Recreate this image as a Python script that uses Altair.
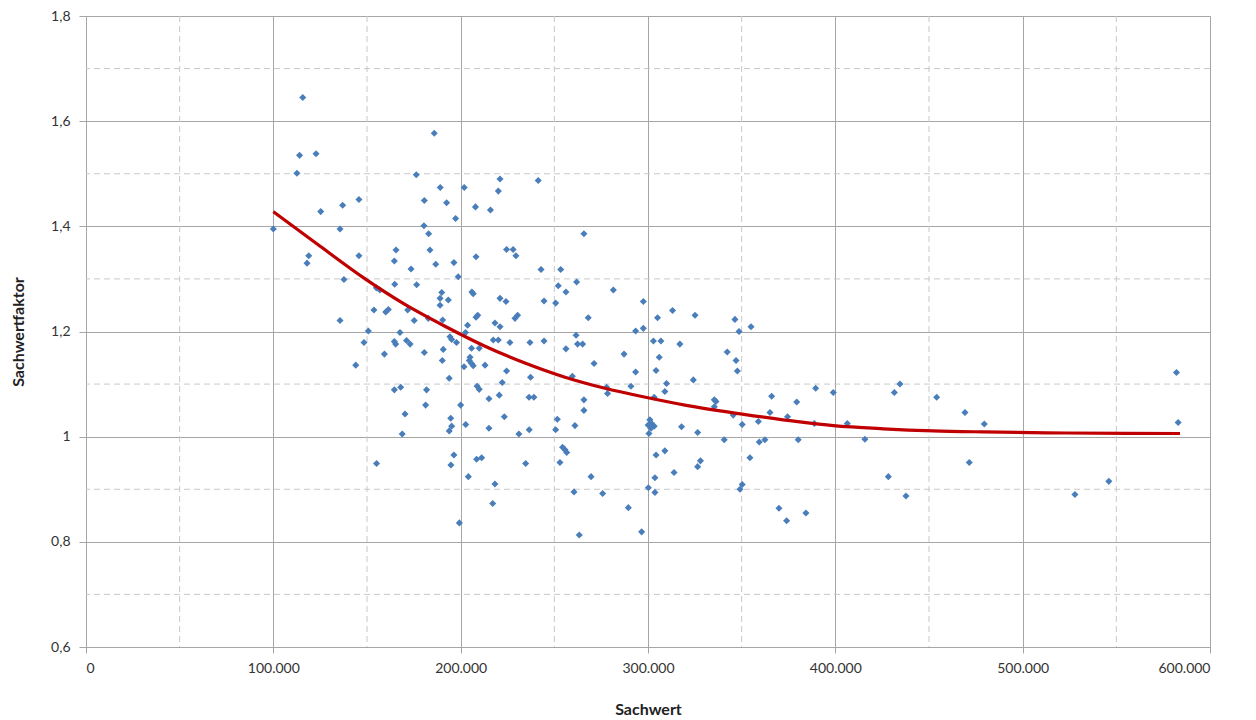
import altair as alt
import pandas as pd

# Scatter data: Sachwert (EUR) and Sachwertfaktor
sachwert = [
    100000, 115700, 114000, 122800, 112600, 125300, 137000, 145700, 135600, 118900,
    118000, 145700, 137700, 135600, 148400, 144000, 150700, 185900, 176300, 189100,
    180600, 192500, 180400, 182900, 165500, 183600, 164600, 186700, 173500, 164800,
    176500, 189900, 189000, 189000, 156900, 155000, 153700, 160000, 161400, 171700,
    175200, 182700, 190400, 167600, 164600, 165300, 171100, 173000, 159300, 180600,
    190700, 190200, 164600, 168000, 181800, 181300, 170300, 168800, 155100, 221000,
    201900, 220100, 207900, 215900, 197300, 224500, 228000, 229500, 208200, 196400,
    198700, 206700, 206000, 193400, 221000, 224200, 209100, 208200, 229000, 230400,
    203700, 218300, 221000, 194300, 195200, 197800, 202600, 205800, 209900, 217400,
    220100, 226300, 205000, 204600, 205800, 206700, 201800, 213000, 224500, 193900,
    208800, 209900, 222200, 215100, 220600, 200000, 223300, 194700, 195200, 193900,
    202700, 215100, 231100, 196400, 194800, 208500, 211200, 204100, 218300, 217100,
    199300, 234700, 241400, 265800, 242900, 253400, 261900, 252100, 256200, 244500,
    250700, 268100, 237000, 244500, 256200, 261600, 262400, 265100, 271200, 237300,
    259600, 236500, 239100, 265800, 265800, 251600, 261000, 236600, 250700, 254400,
    255700, 256600, 253000, 269600, 260500, 275800, 263300, 281500, 297500, 305100,
    313100, 293400, 297500, 302900, 306900, 317000, 287200, 306000, 293400, 304300,
    290900, 309900, 309000, 277900, 278400, 303300, 301000, 301900, 300100, 303300,
    301600, 300500, 317900, 309000, 304300, 313900, 303700, 300200, 303700, 289500,
    296600, 325100, 346400, 348600, 355000, 342300, 347000, 347700, 324200, 366000,
    379400, 335400, 336300, 335400, 365100, 374500, 345500, 358900, 350300, 326500,
    340700, 359400, 362400, 380200, 354400, 328000, 326500, 350300, 349100, 369900,
    374000, 384300, 389500, 398900, 388800, 406400, 415800, 431500, 434500, 428300,
    437700, 454100, 469200, 479500, 471500, 527900, 546000, 582100, 583000,
]
sachwertfaktor = [
    1.395, 1.645, 1.535, 1.538, 1.501, 1.428, 1.440, 1.451, 1.395, 1.344,
    1.330, 1.344, 1.299, 1.221, 1.179, 1.136, 1.201, 1.577, 1.498, 1.474,
    1.449, 1.445, 1.401, 1.386, 1.355, 1.355, 1.334, 1.328, 1.319, 1.290,
    1.289, 1.274, 1.263, 1.250, 1.279, 1.283, 1.241, 1.237, 1.242, 1.241,
    1.221, 1.225, 1.222, 1.198, 1.181, 1.176, 1.183, 1.176, 1.157, 1.160,
    1.166, 1.145, 1.089, 1.094, 1.089, 1.060, 1.043, 1.005, 0.949, 1.490,
    1.474, 1.467, 1.437, 1.431, 1.415, 1.356, 1.356, 1.344, 1.342, 1.331,
    1.304, 1.272, 1.275, 1.260, 1.263, 1.257, 1.231, 1.227, 1.225, 1.231,
    1.212, 1.216, 1.209, 1.190, 1.185, 1.179, 1.198, 1.168, 1.168, 1.184,
    1.184, 1.179, 1.151, 1.145, 1.139, 1.135, 1.133, 1.136, 1.125, 1.111,
    1.096, 1.090, 1.103, 1.072, 1.079, 1.060, 1.038, 1.035, 1.020, 1.011,
    1.023, 1.016, 1.005, 0.965, 0.946, 0.957, 0.960, 0.924, 0.910, 0.873,
    0.836, 0.949, 1.487, 1.386, 1.318, 1.318, 1.294, 1.287, 1.275, 1.258,
    1.254, 1.226, 1.179, 1.182, 1.167, 1.193, 1.176, 1.176, 1.139, 1.113,
    1.115, 1.075, 1.075, 1.070, 1.050, 1.033, 1.021, 1.013, 1.013, 0.980,
    0.975, 0.970, 0.951, 0.924, 0.895, 0.892, 0.813, 1.279, 1.257, 1.226,
    1.240, 1.201, 1.206, 1.182, 1.182, 1.176, 1.157, 1.151, 1.123, 1.126,
    1.096, 1.101, 1.086, 1.094, 1.082, 1.075, 1.032, 1.025, 1.022, 1.020,
    1.016, 1.006, 1.019, 0.973, 0.965, 0.932, 0.922, 0.903, 0.894, 0.865,
    0.819, 1.231, 1.223, 1.200, 1.209, 1.161, 1.145, 1.125, 1.108, 1.077,
    1.066, 1.070, 1.067, 1.057, 1.046, 1.038, 1.041, 1.029, 1.023, 1.008,
    0.994, 0.990, 0.994, 0.994, 0.960, 0.954, 0.943, 0.909, 0.900, 0.864,
    0.840, 0.855, 1.092, 1.084, 1.025, 1.025, 0.995, 1.084, 1.100, 0.924,
    0.887, 1.075, 1.046, 1.024, 0.951, 0.890, 0.915, 1.122, 1.027,
]

# Trend line
trend_x = [100000, 125000, 149000, 170000, 191600, 213000, 234300, 255700, 277000,
           300000, 319700, 350300, 381000, 398900, 425600, 452300, 479000, 523400, 584000]
trend_y = [1.428, 1.362, 1.300, 1.252, 1.210, 1.172, 1.140, 1.113, 1.092,
           1.074, 1.060, 1.043, 1.028, 1.021, 1.015, 1.011, 1.009, 1.007, 1.006]

x_major = [0, 100000, 200000, 300000, 400000, 500000, 600000]
y_major = [0.6, 0.8, 1.0, 1.2, 1.4, 1.6, 1.8]
x_minor = [50000, 150000, 250000, 350000, 450000, 550000]
y_minor = [0.7, 0.9, 1.1, 1.3, 1.5, 1.7]

n = min(len(sachwert), len(sachwertfaktor))
pts = pd.DataFrame({"x": sachwert[:n], "y": sachwertfaktor[:n]})
trend = pd.DataFrame({"x": trend_x, "y": trend_y})

FONT = "Lato"
GRID = "#A6A6A6"
MINOR = "#C8C8C8"

xscale = alt.Scale(domain=[0, 600000], nice=False, zero=False)
yscale = alt.Scale(domain=[0.6, 1.8], nice=False, zero=False)

xaxis = alt.Axis(
    values=x_major, title="Sachwert", grid=True, gridColor=GRID, gridWidth=1,
    labelExpr="replace(format(datum.value, ','), ',', '.')",
    labelFont=FONT, labelFontSize=14, labelColor="#333333", labelPadding=8,
    tickSize=6, tickColor=GRID, domainColor=GRID,
    titleFont=FONT, titleFontSize=16, titleFontWeight="bold", titleColor="#222222",
    titlePadding=26,
)
yaxis = alt.Axis(
    values=y_major, title="Sachwertfaktor", grid=True, gridColor=GRID, gridWidth=1,
    labelExpr="datum.value == 1 ? '1' : replace(format(datum.value, '.1f'), '.', ',')",
    labelFont=FONT, labelFontSize=14, labelColor="#333333", labelPadding=9,
    tickSize=7, tickColor=GRID, domainColor=GRID,
    titleFont=FONT, titleFontSize=16, titleFontWeight="bold", titleColor="#222222",
    titlePadding=24,
)

minor_x = alt.Chart(pd.DataFrame({"x": x_minor})).mark_rule(
    color=MINOR, strokeDash=[6, 4], strokeWidth=1
).encode(x=alt.X("x:Q", scale=xscale, axis=xaxis))

minor_y = alt.Chart(pd.DataFrame({"y": y_minor})).mark_rule(
    color=MINOR, strokeDash=[6, 4], strokeWidth=1
).encode(y=alt.Y("y:Q", scale=yscale, axis=yaxis))

scatter = alt.Chart(pts).mark_point(
    shape="diamond", filled=True, size=50, color="#4A7EBB", opacity=1
).encode(
    x=alt.X("x:Q", scale=xscale, axis=xaxis),
    y=alt.Y("y:Q", scale=yscale, axis=yaxis),
)

line = alt.Chart(trend).mark_line(
    color="#C00000", strokeWidth=3.2, interpolate="monotone"
).encode(
    x=alt.X("x:Q", scale=xscale, axis=xaxis),
    y=alt.Y("y:Q", scale=yscale, axis=yaxis),
)

chart = alt.layer(minor_x, minor_y, scatter, line).properties(
    width=1124, height=631,
    autosize=alt.AutoSizeParams(type="none"),
    padding={"left": 78, "top": 8, "right": 30, "bottom": 72},
).configure_view(stroke=None).configure(background="white")

chart.save("out.html", embed_options={"renderer": "svg", "actions": False})
